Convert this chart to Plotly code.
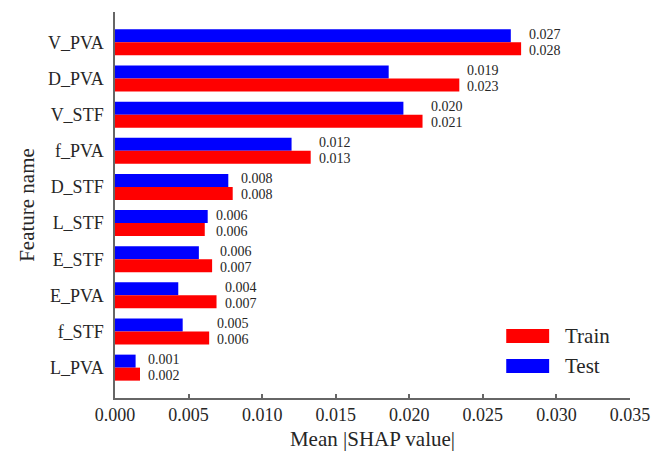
import plotly.graph_objects as go

# Mean |SHAP| per feature, listed top to bottom
features = ["V_PVA", "D_PVA", "V_STF", "f_PVA", "D_STF",
            "L_STF", "E_STF", "E_PVA", "f_STF", "L_PVA"]
train_vals = [0.0276, 0.0234, 0.0209, 0.0133, 0.0080,
              0.0061, 0.0066, 0.0069, 0.0064, 0.0017]
test_vals = [0.0269, 0.0186, 0.0196, 0.0120, 0.0077,
             0.0063, 0.0057, 0.0043, 0.0046, 0.0014]
x_ticks = [0.000, 0.005, 0.010, 0.015, 0.020, 0.025, 0.030, 0.035]

RED = "#ff0000"
BLUE = "#0000ff"
SERIF = "Liberation Serif, Times New Roman, serif"
TXT = "#262626"
AXIS = "#666666"

fig = go.Figure()
fig.add_trace(go.Bar(y=features, x=test_vals, orientation="h", name="Test",
                     marker=dict(color=BLUE, line=dict(width=0))))
fig.add_trace(go.Bar(y=features, x=train_vals, orientation="h", name="Train",
                     marker=dict(color=RED, line=dict(width=0))))

# value labels: stacked pair to the right of each group
for f, tr, te in zip(features, train_vals, test_vals):
    xr = max(tr, te)
    for val, dy in ((te, 8), (tr, -8)):
        fig.add_annotation(x=xr, y=f, xref="x", yref="y", text=f"{val:.3f}",
                           showarrow=False, xanchor="left", yanchor="middle",
                           xshift=7, yshift=dy, borderpad=0,
                           font=dict(family=SERIF, size=14, color=TXT))

# legend drawn as wide swatches
for i, (name, col) in enumerate((("Train", RED), ("Test", BLUE))):
    y0 = 457 - 329 - i * 30
    fig.add_shape(type="rect", xref="paper", yref="paper",
                  x0=(507 - 115) / 516, x1=(550 - 115) / 516,
                  y0=(y0 - 14 - 59) / 386, y1=(y0 - 59) / 386,
                  fillcolor=col, line=dict(width=0))
    fig.add_annotation(xref="paper", yref="paper", x=(564 - 115) / 516,
                       y=(y0 - 7 - 59) / 386, text=name, showarrow=False,
                       xanchor="left", yanchor="middle",
                       font=dict(family=SERIF, size=21, color=TXT))

fig.update_layout(
    width=651, height=457,
    margin=dict(l=115, r=21, t=12, b=59, autoexpand=False),
    paper_bgcolor="white", plot_bgcolor="white",
    barmode="group", bargap=0.28, bargroupgap=0,
    showlegend=False,
    font=dict(family=SERIF, color=TXT),
)
fig.update_xaxes(
    range=[0, 0.035], tickvals=x_ticks,
    ticktext=[f"{v:.3f}" for v in x_ticks],
    showgrid=False, zeroline=False,
    showline=True, linecolor=AXIS, linewidth=1.5,
    ticks="inside", ticklen=4, tickcolor=AXIS, tickwidth=1.5,
    tickfont=dict(family=SERIF, size=18, color=TXT),
    title=dict(text="Mean |SHAP value|", standoff=7,
               font=dict(family=SERIF, size=21, color=TXT)),
)
fig.update_yaxes(
    categoryorder="array", categoryarray=features,
    range=[9.84, -0.84],
    showgrid=False, zeroline=False,
    showline=True, linecolor=AXIS, linewidth=1.5,
    ticks="", ticklabelstandoff=6,
    tickfont=dict(family=SERIF, size=18, color=TXT),
    title=dict(text="Feature name", standoff=8,
               font=dict(family=SERIF, size=21, color=TXT)),
)

fig.write_html("out.html")
